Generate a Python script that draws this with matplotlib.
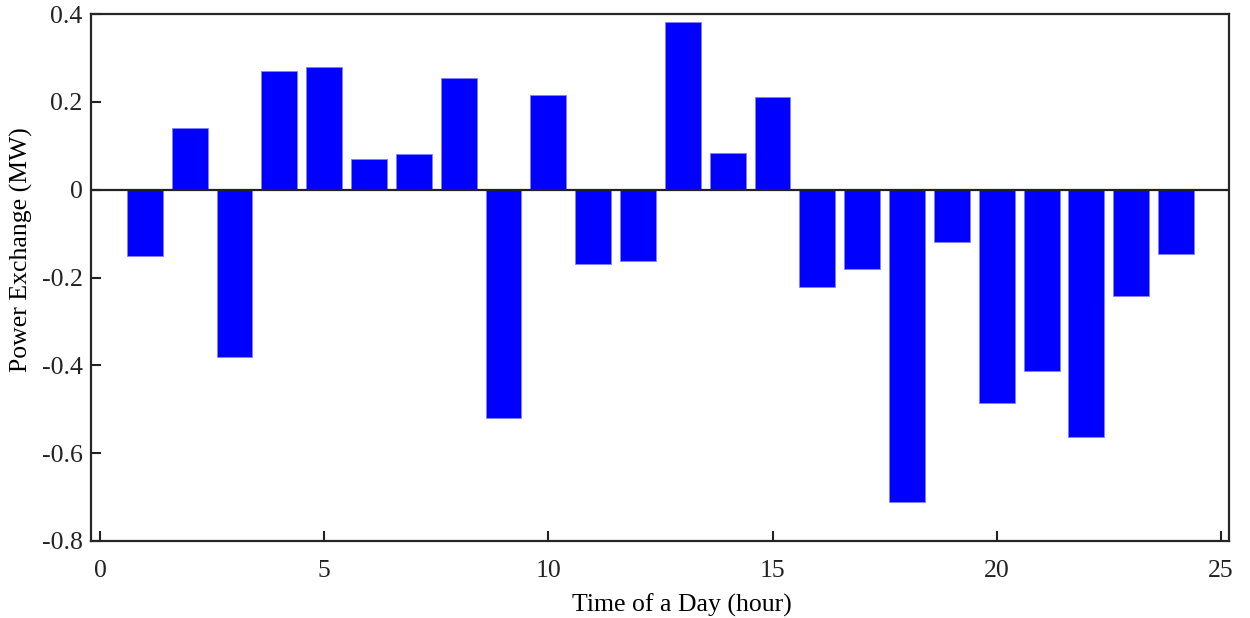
import numpy as np
import matplotlib.pyplot as plt

plt.rcParams['font.family'] = ['Liberation Serif', 'DejaVu Serif']

# hourly power exchange
hours = np.arange(1, 25)
power = [-0.151, 0.140, -0.381, 0.270, 0.279, 0.070, 0.081, 0.254,
         -0.520, 0.216, -0.169, -0.162, 0.382, 0.084, 0.211, -0.222,
         -0.181, -0.711, -0.119, -0.486, -0.413, -0.563, -0.242, -0.146]
xticks = [0, 5, 10, 15, 20, 25]
yticks = [-0.8, -0.6, -0.4, -0.2, 0, 0.2, 0.4]
ylabels = ['-0.8', '-0.6', '-0.4', '-0.2', '0', '0.2', '0.4']

fig = plt.figure(figsize=(12.5, 6.18), dpi=100)
ax = fig.add_axes([0.0728, 0.1246, 0.9104, 0.8527])

ax.bar(hours, power, width=0.8, color='#0000ff', edgecolor='#8080ff', linewidth=0.6, zorder=2)
ax.axhline(0, color='#222222', linewidth=1.6, zorder=3)

ax.set_xlim(-0.2, 25.18)
ax.set_ylim(-0.8, 0.4)
ax.set_xticks(xticks)
ax.set_yticks(yticks)
ax.set_yticklabels(ylabels)
ax.tick_params(direction='in', length=7.5, width=1.5, labelsize=18.5, colors='#222222')
ax.tick_params(axis='x', pad=14)
ax.tick_params(axis='y', pad=6)
for s in ax.spines.values():
    s.set_linewidth(1.6)
    s.set_color('#262626')

ax.set_xlabel('Time of a Day (hour)', fontsize=18.5)
ax.set_ylabel('Power Exchange (MW)', fontsize=18.5)
ax.xaxis.set_label_coords(0.519, -0.1, transform=ax.transAxes)
ax.xaxis.label.set_va('top')
ax.yaxis.set_label_coords(-0.0615, 0.552, transform=ax.transAxes)
ax.yaxis.label.set_va('center')
ax.yaxis.label.set_x(-0.0615)

fig.savefig('out.png', dpi=100)
